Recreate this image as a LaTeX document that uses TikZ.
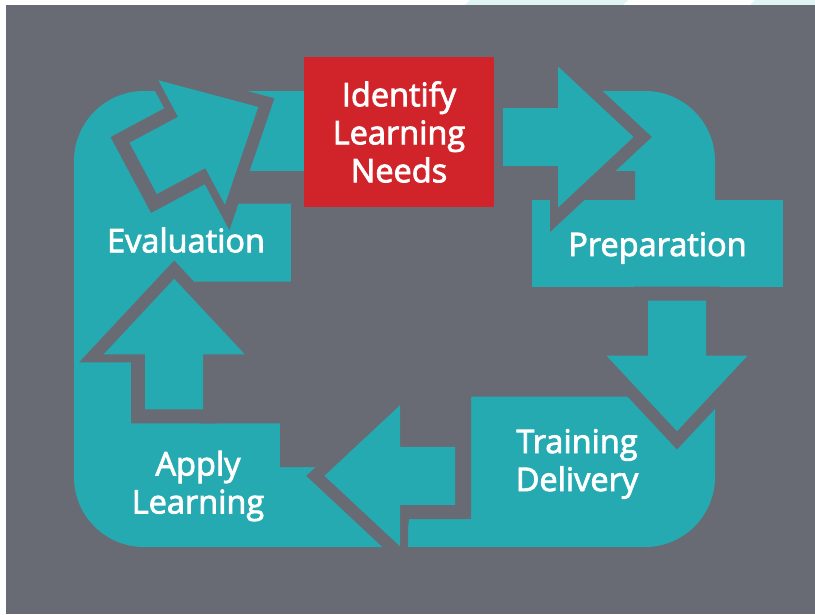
\documentclass[tikz,border=0pt]{standalone}
\usepackage{fontspec}
\newfontfamily\lblfont{Open Sans}[FakeBold=2.5]
\definecolor{bggray}{HTML}{686B74}
\definecolor{tealc}{HTML}{26AAB2}
\definecolor{boxred}{HTML}{D1232A}
\definecolor{stripec}{HTML}{E0F3F5}
\tikzset{
  lbl/.style={text=white, font=\lblfont\fontsize{32.5}{38}\selectfont, inner sep=0pt, align=center},
  blockarrow/.pic={\fill[tealc] (0,-29) -- (55,-29) -- (55,-70.5) -- (130.5,0) -- (55,70.5) -- (55,29) -- (0,29) -- cycle;},
  arrowgap/.pic={\fill[bggray] (-14,-43) -- (47,-43) -- (47,-95.1) -- (148.8,0) -- (47,95.1) -- (47,43) -- (-14,43) -- cycle;}
}
\begin{document}
\begin{tikzpicture}[x=1pt,y=-1pt]
\useasboundingbox (0,0) rectangle (815,614);
\fill[white] (0,0) rectangle (815,614);
\fill[stripec] (470,0) -- (628,0) -- (623,5) -- (465,5) -- cycle;
\fill[stripec] (755,0) -- (815,0) -- (815,5) -- (750,5) -- cycle;
\fill[bggray] (6,5) rectangle (815,614);
% teal frame
\fill[tealc, rounded corners=70pt] (74,91) rectangle (715,547);
% inner gray area
\fill[bggray] (247,171) -- (494,171) -- (494,85) -- (590,85) -- (600,171) -- (635,171) -- (635,200)
  -- (532,200) -- (532,287) -- (720,287) -- (720,395) -- (700,410) -- (677,440) -- (650,410)
  -- (628,396.7) -- (471,396.7) -- (471,519) -- (409,519) -- (405,552) -- (396,552) -- (396,535)
  -- (340,476) -- (325,467) -- (280,467) -- (280,423.3) -- (200,423.3) -- (200,300) -- (192,284)
  -- (195,281.7) -- (291,281.7) -- (291,203.7) -- (238,203.7) -- cycle;
% preparation box extension
\fill[tealc] (532,200) rectangle (783,287);
% gaps around arrows
\pic[rotate=0] at (503,137) {arrowgap};
\pic[rotate=-90] at (677,300.7) {arrowgap};
\pic[rotate=180] at (455,475.8) {arrowgap};
\pic[rotate=90] at (174.2,409.3) {arrowgap};
\pic[rotate=28.1] at (143.15,168.4) {arrowgap};
% arrows
\pic[rotate=0] at (503,137) {blockarrow};
\pic[rotate=-90] at (677,300.7) {blockarrow};
\pic[rotate=180] at (455,475.8) {blockarrow};
\pic[rotate=90] at (174.2,409.3) {blockarrow};
\pic[rotate=28.1] at (143.15,168.4) {blockarrow};
% labels
\node[lbl, fill=boxred, minimum width=190pt, minimum height=150pt] (identify) at (399,132) {Identify\\Learning\\Needs};
\node[lbl, anchor=base] (evaluation) at (186,252.3) {Evaluation};
\node[lbl, anchor=base] (preparation) at (657.5,256) {Preparation};
\node[lbl] (delivery) at (577,464) {Training\\Delivery};
\node[lbl] (apply) at (198,486) {Apply\\Learning};
\end{tikzpicture}
\end{document}
